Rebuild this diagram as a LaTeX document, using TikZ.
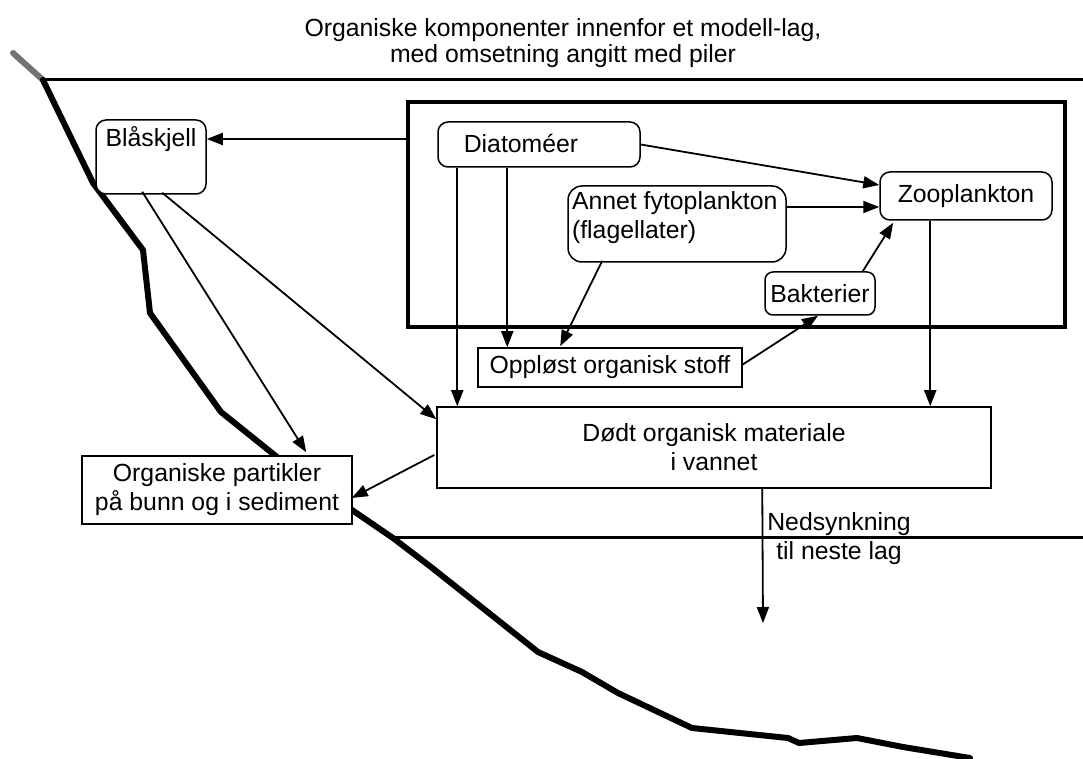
\documentclass[tikz,border=0pt]{standalone}
\usepackage{fontspec}
\setmainfont{Liberation Sans}
\usetikzlibrary{arrows.meta,calc}
\begin{document}
\begin{tikzpicture}[x=0.5pt,y=-0.5pt,
  font=\fontsize{12.4}{14.5}\selectfont,
  box/.style={draw, line width=0.75pt, fill=white, inner sep=2pt},
  rbox/.style={box, rounded corners=5pt},
  arr/.style={line width=0.9pt, -{Triangle[length=8pt,width=6pt]}},
  shore/.style={line width=3pt, line join=round, line cap=round},
  level/.style={line width=1.5pt}
]
\useasboundingbox (0,0) rectangle (1083,759);

% water levels
\draw[level] (43,80) -- (1083,80);
\draw[level] (389,538) -- (1083,538);

% shoreline
\draw[shore, black!55] (13,53) -- (43,80);
\draw[shore] (43,80) -- (93,183) -- (143,250) -- (150,313) -- (221,412) -- (277,457)
  -- (352,510) -- (393,538) -- (431,567) -- (538,652) -- (582,672) -- (618,693)
  -- (692,728) -- (788,738) -- (799,743) -- (857,738) -- (903,747) -- (970,758);

% title
\node[anchor=base] (t1) at (563,37) {Organiske komponenter innenfor et modell-lag,};
\node[anchor=base] (t2) at (563,63) {med omsetning angitt med piler};

% layer frame
\node[draw, line width=2pt, minimum width=328.5pt, minimum height=112.5pt] (layer) at (736.5,214.5) {};

% boxes
\node[rbox, minimum width=55pt, minimum height=37pt] (blaa) at (151,157) {};
\node (bltxt) at (151,139) {Blåskjell};

\node[rbox, minimum width=101pt, minimum height=22.5pt] (diat) at (539,144.5) {};
\node (dtxt) at (521,143) {Diatoméer};

\node[rbox, rounded corners=7pt, minimum width=109pt, minimum height=38pt] (anne) at (677,224) {};
\node[align=left, anchor=west] (atxt) at (565,217.5) {Annet fytoplankton\\(flagellater)};

\node[rbox, minimum width=86pt, minimum height=24pt] (zoo) at (966,196) {Zooplankton};
\node[rbox, rounded corners=4pt, minimum width=55pt, minimum height=21.5pt] (bakt) at (820,293.5) {Bakterier};

\node[box, minimum width=132pt, minimum height=19.5pt] (opp) at (610,367.5) {Oppløst organisk stoff};
\node[box, minimum width=277pt, minimum height=40.5pt, align=center] (dodt) at (714,447.5) {Dødt organisk materiale\\i vannet};
\node[box, minimum width=135pt, minimum height=34pt, align=center] (org) at (217,490) {Organiske partikler\\på bunn og i sediment};

\node[align=center] (ned) at (839,539) {Nedsynkning\\til neste lag};
\coordinate (sink) at (763,623);

% start points of vertical connectors
\coordinate (dv1) at ($(diat.south west)+(70,0)$);
\coordinate (dv2) at ($(diat.south west)+(20,0)$);
\coordinate (zv) at ($(zoo.south west)+(51,0)$);
\coordinate (dsink) at ($(dodt.south west)+(326,0)$);

% connectors
\draw[arr] (layer.west |- bltxt) -- (blaa.east |- bltxt);
\draw[arr] (diat.east) -- ($(zoo.west)+(0,-11)$);
\draw[arr] ($(anne.east)+(0,-17)$) -- ($(zoo.west)+(0,11)$);
\draw[arr] ($(bakt.north east)+(-13,0)$) -- ($(zoo.south west)+(14,2)$);
\draw[arr] ($(anne.south west)+(35,-2)$) -- ($(opp.north west)+(83,-1)$);
\draw[arr] (dv1) -- (dv1 |- opp.north);
\draw[arr] (dv2) -- (dv2 |- dodt.north);
\draw[arr] (zv) -- (zv |- dodt.north);
\draw[arr] ($(opp.east)+(0,-3)$) -- ($(bakt.south)+(-2,0)$);
\draw[arr] ($(blaa.south west)+(47,-3)$) -- ($(org.north west)+(225,-3)$);
\draw[arr] ($(blaa.south west)+(67,-2)$) -- ($(dodt.north west)+(0,13)$);
\draw[arr] ($(dodt.west)+(-2,7.5)$) -- ($(org.east)+(-1,8)$);
\draw[arr] (dsink) -- (sink);
\end{tikzpicture}
\end{document}
